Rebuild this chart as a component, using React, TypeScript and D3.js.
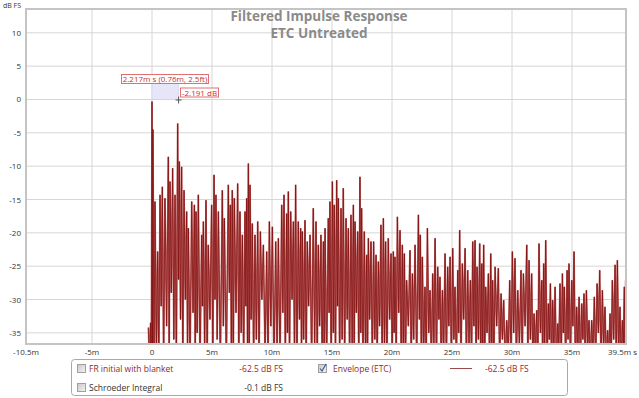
import React from "react";
import * as d3 from "d3";

const W = 639;
const H = 398;
const margin = { left: 26, right: 13, top: 9, bottom: 54 };

const xTicks = [-10.5, -5, 0, 5, 10, 15, 20, 25, 30, 35, 39.5];
const yTicks = [10, 5, 0, -5, -10, -15, -20, -25, -30, -35];

// [ms, peak dB, trough after it dB]
const preEcho = [
  [-0.3, -34.2, -40],
  [-0.12, -33.5, -42],
];
const early = [
  [0.0, -0.3, -37], [0.08, -4.5, -40], [0.25, -15.3, -38], [0.47, -22.8, -40],
  [0.67, -14.3, -31], [0.86, -13.1, -40], [1.08, -14.8, -34], [1.36, -8.6, -40],
  [1.5, -12.3, -29], [1.72, -10.3, -36], [1.92, -14.3, -40], [2.14, -3.6, -27],
  [2.28, -9.3, -33], [2.47, -10.1, -40], [2.67, -13.6, -30], [2.89, -16.8, -38],
  [3.03, -19.3, -40], [3.31, -15.3, -32], [3.53, -15.8, -40], [3.67, -16.8, -35],
  [3.86, -14.3, -40], [4.14, -20.3, -31], [4.28, -18.3, -38], [4.5, -15.1, -40],
  [4.69, -21.8, -33], [4.97, -15.8, -40], [5.17, -11.3, -30], [5.33, -14.3, -36],
  [5.53, -16.8, -40], [5.86, -13.6, -34], [6.03, -17.8, -40], [6.36, -12.8, -29],
  [6.53, -15.8, -37], [6.69, -13.6, -40], [6.86, -14.8, -32], [7.14, -12.6, -40],
  [7.33, -16.8, -35], [7.53, -20.3, -40], [7.75, -16.8, -31], [7.89, -14.8, -38],
  [8.03, -9.6, -40], [8.17, -12.8, -33], [8.36, -18.6, -40], [8.58, -20.3, -36],
  [8.81, -18.3, -40], [9.03, -19.8, -30], [9.28, -21.8, -38], [9.56, -22.8, -40],
  [9.78, -18.3, -34],
];
const mid = [
  [10.03, -19.1, -40], [10.31, -21.3, -37], [10.53, -20.8, -40], [10.81, -15.8, -32],
  [11.0, -14.3, -40], [11.22, -17.1, -35], [11.36, -13.8, -40], [11.56, -16.8, -30],
  [11.78, -18.3, -39], [11.97, -12.8, -40], [12.19, -18.3, -33], [12.39, -19.3, -40],
  [12.53, -19.8, -36], [12.75, -18.1, -40], [12.94, -21.3, -31], [13.17, -20.3, -40],
  [13.44, -16.3, -37], [13.67, -18.3, -40], [13.86, -21.8, -34], [14.08, -20.3, -40],
  [14.28, -21.3, -38], [14.42, -19.3, -40], [14.69, -17.8, -32], [14.83, -15.3, -40],
  [15.03, -12.3, -35], [15.19, -15.8, -40], [15.39, -12.1, -31], [15.53, -14.8, -40],
  [15.75, -16.3, -36], [15.94, -13.3, -40], [16.17, -17.8, -33], [16.36, -19.3, -40],
  [16.58, -17.3, -37], [16.78, -15.8, -40], [16.92, -18.3, -32], [17.14, -19.8, -40],
  [17.33, -11.6, -35], [17.47, -16.3, -40], [17.69, -19.8, -38], [17.89, -23.3, -40],
  [18.03, -20.8, -33], [18.25, -21.3, -40], [18.47, -21.3, -36], [18.67, -23.3, -40],
  [18.86, -24.3, -34], [19.08, -18.8, -40], [19.28, -17.8, -37], [19.47, -21.3, -40],
  [19.69, -20.8, -33],
];
const late = [
  [19.92, -23.1, -40], [20.11, -22.8, -35], [20.25, -23.6, -40], [20.45, -17.6, -32],
  [20.67, -19.6, -40], [20.86, -21.8, -37], [21.03, -23.1, -40], [21.22, -27.1, -34],
  [21.5, -22.6, -40], [21.7, -26.1, -36], [21.92, -21.8, -40], [22.2, -17.3, -33],
  [22.36, -20.3, -40], [22.53, -23.6, -38], [22.75, -28.1, -40], [22.95, -19.3, -35],
  [23.17, -28.6, -40], [23.39, -26.1, -37], [23.59, -20.8, -40], [23.81, -25.1, -33],
  [24.0, -26.6, -40], [24.2, -28.6, -38], [24.42, -23.1, -40], [24.64, -25.1, -34],
  [24.84, -23.6, -40], [25.06, -22.3, -36], [25.25, -28.1, -40], [25.48, -25.6, -35],
  [25.64, -19.6, -40], [25.86, -24.6, -33], [26.09, -22.3, -40], [26.31, -25.6, -37],
  [26.53, -27.1, -40], [26.73, -21.3, -34], [26.92, -21.1, -40], [27.09, -25.1, -36],
  [27.31, -21.6, -40], [27.48, -24.6, -38], [27.64, -21.8, -40], [27.81, -28.1, -35],
  [28.03, -26.1, -40], [28.23, -23.1, -37], [28.39, -27.1, -40], [28.59, -25.1, -34],
  [28.86, -25.3, -40], [29.09, -29.1, -36], [29.31, -30.1, -40], [29.56, -33.1, -38],
  [29.81, -27.1, -40],
];
const tail = [
  [30.03, -22.8, -35], [30.25, -23.8, -40], [30.48, -28.6, -37], [30.75, -25.6, -40],
  [30.95, -26.1, -34], [31.23, -21.8, -40], [31.42, -24.1, -36], [31.64, -26.1, -40],
  [31.84, -32.1, -38], [32.06, -31.6, -40], [32.25, -21.6, -35], [32.48, -27.1, -40],
  [32.64, -24.6, -37], [32.81, -21.1, -40], [33.03, -30.6, -36], [33.2, -27.6, -40],
  [33.39, -30.1, -38], [33.59, -28.1, -40], [33.81, -33.6, -37], [34.0, -27.6, -40],
  [34.2, -26.1, -35], [34.36, -28.1, -40], [34.59, -25.6, -36], [34.75, -24.6, -40],
  [34.98, -27.1, -34], [35.17, -22.8, -40], [35.39, -31.1, -38], [35.59, -29.6, -40],
  [35.81, -30.6, -36], [36.0, -29.1, -40], [36.2, -28.6, -37], [36.42, -33.1, -40],
  [36.64, -33.1, -38], [36.86, -29.6, -40], [37.09, -27.6, -35], [37.31, -25.6, -40],
  [37.53, -28.6, -37], [37.75, -31.1, -40], [37.97, -34.6, -39], [38.17, -32.1, -40],
  [38.36, -27.1, -36], [38.59, -24.8, -40], [38.78, -24.1, -38], [39.0, -31.1, -40],
  [39.2, -33.1, -37], [39.36, -28.1, -40], [39.47, -27.1, -40],
];

const cursorMs = 2.217;
const cursorDb = 2.4;

const font = "'Open Sans', 'DejaVu Sans', sans-serif";

export default function App() {
  const x = d3.scaleLinear().domain([-10.5, 39.5]).range([margin.left, W - margin.right]);
  const y = d3.scaleLinear().domain([-36.67, 13.57]).range([H - margin.bottom, margin.top]);

  const all = [...preEcho, ...early, ...mid, ...late, ...tail];
  const pts: [number, number][] = [];
  all.forEach((d, i) => {
    pts.push([d[0], d[1]]);
    const next = all[i + 1];
    if (next) pts.push([(d[0] + next[0]) / 2, d[2]]);
  });
  const line = d3
    .line<[number, number]>()
    .x((d) => x(d[0]))
    .y((d) => y(d[1]));
  const path = line(pts) || "";

  const x0 = margin.left;
  const x1 = W - margin.right;
  const y0 = margin.top;
  const y1 = H - margin.bottom;

  return (
    <svg
      width={W}
      height={H}
      style={{ position: "absolute", left: 0, top: 0, background: "#fff" }}
      fontFamily={font}
    >
      <defs>
        <clipPath id="plot">
          <rect x={x0} y={y0} width={x1 - x0} height={y1 - y0} />
        </clipPath>
        <linearGradient id="cb" x1="0" y1="0" x2="1" y2="1">
          <stop offset="0" stopColor="#c8c8c8" />
          <stop offset="1" stopColor="#f4f4f4" />
        </linearGradient>
      </defs>

      {/* grid */}
      {xTicks.slice(1, -1).map((t) => (
        <line key={"gx" + t} x1={x(t)} x2={x(t)} y1={y0} y2={y1} stroke="#d6d6d6" strokeWidth={1} />
      ))}
      {yTicks.map((t) => (
        <line key={"gy" + t} x1={x0} x2={x1} y1={y(t)} y2={y(t)} stroke="#d6d6d6" strokeWidth={1} />
      ))}

      {/* title */}
      <text x={319} y={21} textAnchor="middle" fontSize={13.5} fontWeight="bold" fill="#8a8a8a">
        Filtered Impulse Response
      </text>
      <text x={319} y={37.5} textAnchor="middle" fontSize={13.5} fontWeight="bold" fill="#8a8a8a">
        ETC Untreated
      </text>

      {/* trace */}
      <g clipPath="url(#plot)">
        <path d={path} fill="none" stroke="#c46a6a" strokeWidth={1.7} />
        <path d={path} fill="none" stroke="#7c0a0a" strokeWidth={0.7} />
      </g>

      {/* frame */}
      <rect x={x0} y={y0} width={x1 - x0} height={y1 - y0} fill="none" stroke="#c4c4c4" strokeWidth={2} />

      {/* axes labels */}
      <text x={3} y={8} fontSize={7} fill="#333">dB FS</text>
      {yTicks.map((t) => (
        <text key={"ly" + t} x={21} y={y(t) + 3} textAnchor="end" fontSize={8} fill="#333">
          {t}
        </text>
      ))}
      {xTicks.map((t) => (
        <text
          key={"lx" + t}
          x={t === 39.5 ? 637 : x(t)}
          y={355}
          textAnchor={t === 39.5 ? "end" : "middle"}
          fontSize={8}
          fill="#333"
        >
          {t === 0 ? "0" : t === 39.5 ? "39.5m s" : `${t}m`}
        </text>
      ))}

      {/* cursor annotation */}
      <rect
        x={x(0)}
        y={y(cursorDb)}
        width={x(cursorMs) - x(0)}
        height={y(0) - y(cursorDb)}
        fill="#e6e6f8"
        stroke="#c8c8e8"
        strokeWidth={0.5}
      />
      <rect x={121.5} y={74.5} width={87} height={9} fill="#fff" stroke="#e07070" strokeWidth={1} />
      <text x={165} y={82} textAnchor="middle" fontSize={8} fill="#c83030">
        2.217m s (0.76m, 2.5ft)
      </text>
      <rect x={180.5} y={88} width={38} height={9} fill="#fff" stroke="#e07070" strokeWidth={1} />
      <text x={199.5} y={95.5} textAnchor="middle" fontSize={8} fill="#c83030">
        -2.191 dB
      </text>
      <g stroke="#555" strokeWidth={1}>
        <line x1={x(cursorMs) - 3} x2={x(cursorMs) + 3} y1={y(0) + 0.5} y2={y(0) + 0.5} />
        <line x1={x(cursorMs)} x2={x(cursorMs)} y1={y(0) - 3} y2={y(0) + 4} />
      </g>

      {/* legend */}
      <rect x={71.5} y={359.5} width={496} height={36} rx={3} fill="#fff" stroke="#a8a8a8" strokeWidth={1} />
      <rect x={77.5} y={364.5} width={8} height={8} fill="url(#cb)" stroke="#a0a0a0" />
      <text x={89} y={372} fontSize={8.5} fill="#8c2a2a">FR initial with blanket</text>
      <text x={283} y={372} textAnchor="end" fontSize={8.5} fill="#a02424">-62.5 dB FS</text>
      <rect x={77.5} y={383.5} width={8} height={8} fill="url(#cb)" stroke="#a0a0a0" />
      <text x={89} y={391} fontSize={8.5} fill="#333">Schroeder Integral</text>
      <text x={283} y={391} textAnchor="end" fontSize={8.5} fill="#333">-0.1 dB FS</text>
      <rect x={318.5} y={364.5} width={8} height={8} fill="url(#cb)" stroke="#a0a0a0" />
      <path d="M320 368.5 L322 371 L326 364" fill="none" stroke="#3a5a9a" strokeWidth={1.2} />
      <text x={333} y={372} fontSize={8.5} fill="#8c2a2a">Envelope (ETC)</text>
      <line x1={450} x2={472} y1={368.5} y2={368.5} stroke="#9a4a4a" strokeWidth={1} />
      <text x={485} y={372} fontSize={8.5} fill="#a02424">-62.5 dB FS</text>
    </svg>
  );
}
